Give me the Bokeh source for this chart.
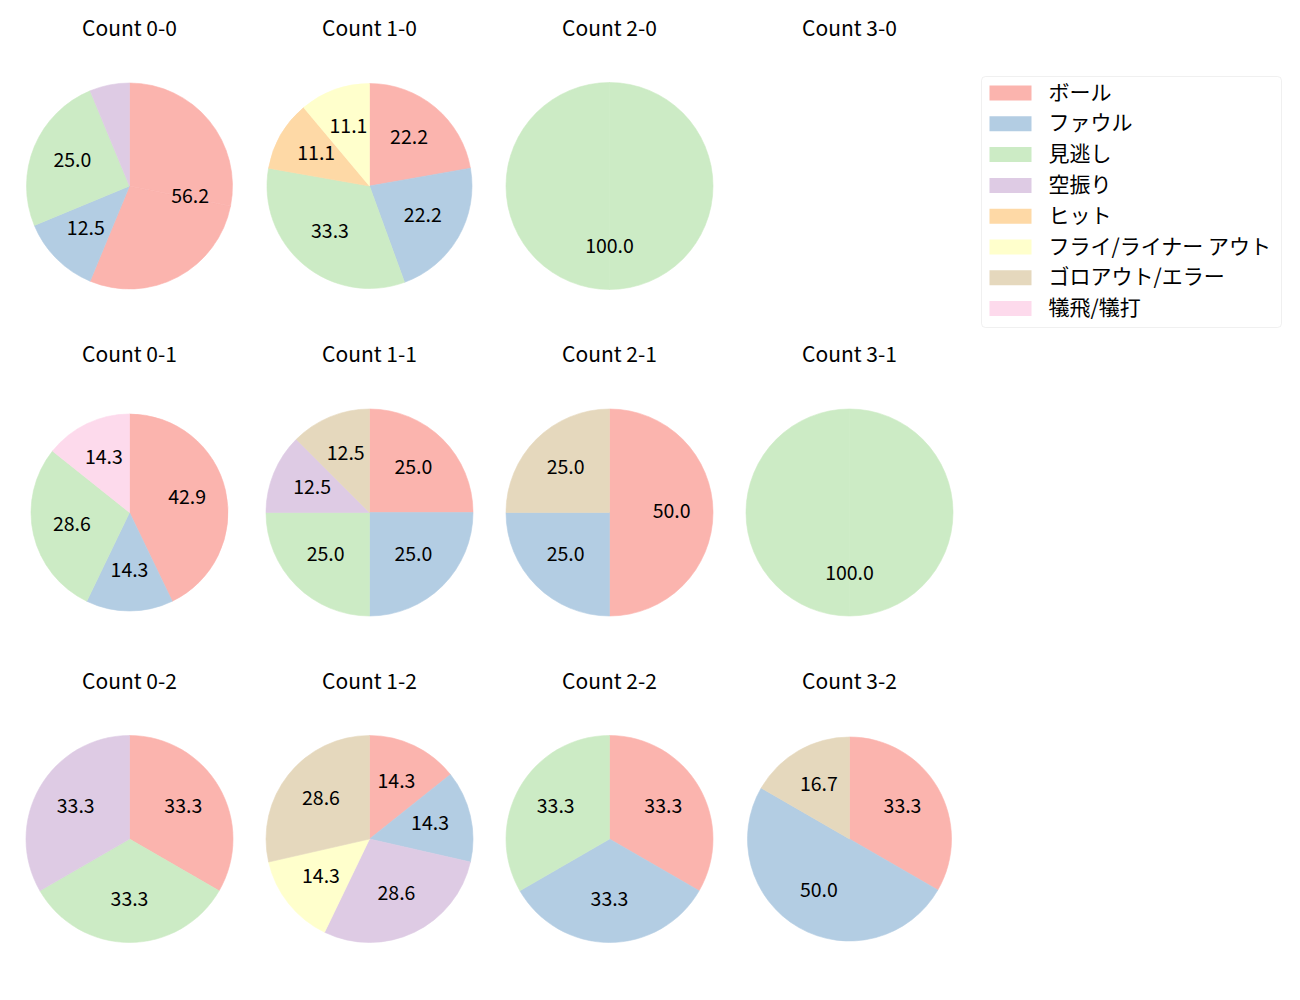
import math
from bokeh.plotting import figure
from bokeh.models import Range1d, BoxAnnotation, ColumnDataSource
from bokeh.core.properties import value
from bokeh.embed import file_html
from bokeh.resources import INLINE

# ---------------- data ----------------
categories = ["ボール", "ファウル", "見逃し", "空振り", "ヒット",
              "フライ/ライナー アウト", "ゴロアウト/エラー", "犠飛/犠打"]
colors = ["#fbb4ae", "#b3cde3", "#ccebc5", "#decbe4",
          "#fed9a6", "#ffffcc", "#e5d8bd", "#fddaec"]

titles = ["Count 0-0", "Count 1-0", "Count 2-0", "Count 3-0",
          "Count 0-1", "Count 1-1", "Count 2-1", "Count 3-1",
          "Count 0-2", "Count 1-2", "Count 2-2", "Count 3-2"]

count_00 = [9, 2, 4, 1, 0, 0, 0, 0]
count_10 = [2, 2, 3, 0, 1, 1, 0, 0]
count_20 = [0, 0, 1, 0, 0, 0, 0, 0]
count_30 = [0, 0, 0, 0, 0, 0, 0, 0]
count_01 = [3, 1, 2, 0, 0, 0, 0, 1]
count_11 = [2, 2, 2, 1, 0, 0, 1, 0]
count_21 = [2, 1, 0, 0, 0, 0, 1, 0]
count_31 = [0, 0, 1, 0, 0, 0, 0, 0]
count_02 = [1, 0, 1, 1, 0, 0, 0, 0]
count_12 = [1, 1, 0, 2, 0, 1, 2, 0]
count_22 = [1, 1, 1, 0, 0, 0, 0, 0]
count_32 = [2, 3, 0, 0, 0, 0, 1, 0]

panels = [count_00, count_10, count_20, count_30,
          count_01, count_11, count_21, count_31,
          count_02, count_12, count_22, count_32]

# ---------------- layout ----------------
W, H = 1284, 984
FONT = "Noto Sans CJK JP"
col_x0, col_dx = 129, 240
row_y0, row_dy = 185.5, 326.5
title_gap = 157
text_lift = 2.5
radii = [103, 102.5, 103.5, 103,
         98.5, 103.5, 103.5, 103.5,
         103.5, 103.5, 103.5, 102]

# data coordinates = page pixel coordinates (y flipped)
p = figure(width=W, height=H, output_backend="svg", toolbar_location=None,
           x_range=Range1d(0, W), y_range=Range1d(1000 - H, 1000),
           min_border=0)
p.axis.visible = False
p.grid.visible = False
p.outline_line_color = None


def py(y_page):
    return 1000 - y_page


wx, wy, wr, ws, we, wc = [], [], [], [], [], []
lx, ly, lt = [], [], []
tx, ty, tt = [], [], []

for i, vals in enumerate(panels):
    r_i, c_i = divmod(i, 4)
    cx = col_x0 + col_dx * c_i
    cy_page = row_y0 + row_dy * r_i
    cy = py(cy_page)
    rad = radii[i]
    tx.append(cx)
    ty.append(py(cy_page - title_gap) + text_lift)
    tt.append(titles[i])
    total = sum(vals)
    if total == 0:
        continue
    cum = 0.0
    for k, v in enumerate(vals):
        if v == 0:
            continue
        f0 = cum / total
        f1 = (cum + v) / total
        cum += v
        a_hi = 90 - 360 * f0
        a_lo = 90 - 360 * f1
        pieces = [(a_lo, a_hi)] if a_hi - a_lo <= 180 else \
            [(a_lo, (a_lo + a_hi) / 2), ((a_lo + a_hi) / 2, a_hi)]
        for s, e in pieces:
            wx.append(cx); wy.append(cy); wr.append(rad)
            ws.append(s); we.append(e); wc.append(colors[k])
        pct = 100.0 * v / total
        if pct >= 10:
            mid = math.radians((a_lo + a_hi) / 2)
            lx.append(cx + 0.6 * rad * math.cos(mid))
            ly.append(cy + 0.6 * rad * math.sin(mid) + text_lift)
            lt.append("%.1f" % pct)

wsrc = ColumnDataSource(dict(x=wx, y=wy, r=wr, s=ws, e=we, c=wc))
p.wedge(x="x", y="y", radius="r", start_angle="s", end_angle="e",
        start_angle_units="deg", end_angle_units="deg", direction="anticlock",
        fill_color="c", line_color="c", line_width=0.6, source=wsrc)

p.text(x=lx, y=ly, text=lt, text_font=value(FONT), text_font_size="19.5px",
       text_align="center", text_baseline="middle", text_color="#000000")
p.text(x=tx, y=ty, text=tt, text_font=value(FONT), text_font_size="21px",
       text_align="center", text_baseline="middle", text_color="#000000")

# ---------------- legend ----------------
leg_left, leg_right, leg_top, leg_bottom = 981, 1281, 76, 327
p.add_layout(BoxAnnotation(left=leg_left, right=leg_right,
                           top=py(leg_top), bottom=py(leg_bottom),
                           fill_color="white", fill_alpha=1.0,
                           line_color="#cccccc", line_width=1,
                           border_radius=4, level="underlay"))
item_y0, item_dy = 92.5, 30.8
patch_x, patch_w, patch_h = 1010, 42, 15
text_x = 1048
iy = [py(item_y0 + item_dy * k) for k in range(len(categories))]
p.rect(x=[patch_x] * len(categories), y=iy, width=patch_w, height=patch_h,
       fill_color=colors, line_color=None)
p.text(x=[text_x] * len(categories), y=[v + text_lift for v in iy],
       text=categories, text_font=value(FONT), text_font_size="21px",
       text_align="left", text_baseline="middle", text_color="#000000")

open("out.html", "w").write(file_html(p, INLINE))
